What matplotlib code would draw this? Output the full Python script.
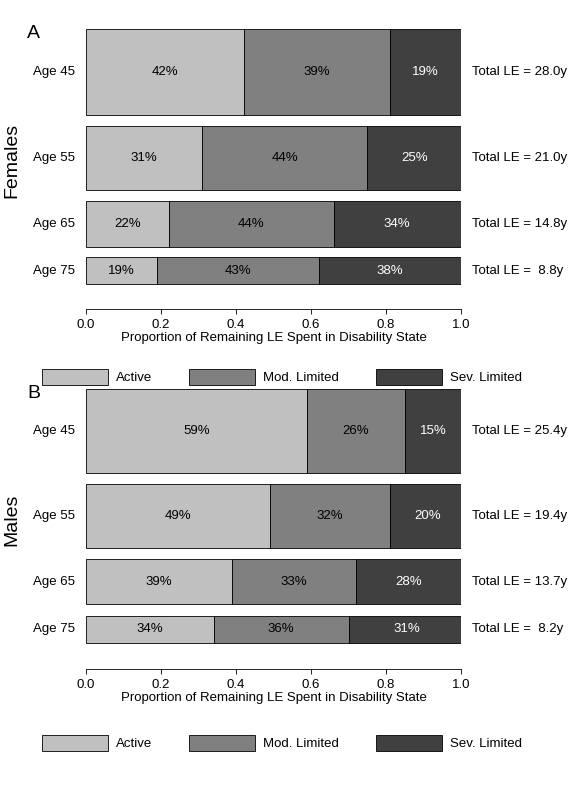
import matplotlib.pyplot as plt
from matplotlib.patches import Patch

plt.rcParams['font.family'] = ['Liberation Sans', 'DejaVu Sans']

ages = ["Age 45", "Age 55", "Age 65", "Age 75"]
fem_active = [0.42, 0.31, 0.22, 0.19]
fem_mod = [0.39, 0.44, 0.44, 0.43]
fem_sev = [0.19, 0.25, 0.34, 0.38]
fem_le = [28.0, 21.0, 14.8, 8.8]
male_active = [0.59, 0.49, 0.39, 0.34]
male_mod = [0.26, 0.32, 0.33, 0.36]
male_sev = [0.15, 0.20, 0.28, 0.31]
male_le = [25.4, 19.4, 13.7, 8.2]

colors = ["#c0c0c0", "#808080", "#404040"]
txtcol = ["black", "black", "white"]
gap = 3.5
fs = 9.5

fig = plt.figure(figsize=(5.76, 8), dpi=100)


def panel(bottom_px, top_px, act, mod, sev, le, letter, sex):
    ax = fig.add_axes([86 / 576, 1 - bottom_px / 800, 375 / 576, (bottom_px - top_px) / 800])
    y = 0.0
    for i in range(len(ages)):
        h = le[i]
        yc = -(y + h / 2)
        left = 0
        for j, v in enumerate([act[i], mod[i], sev[i]]):
            ax.barh(yc, v, height=h, left=left, color=colors[j], edgecolor="black", linewidth=0.6)
            ax.text(left + v / 2, yc, f"{round(v * 100)}%", ha="center", va="center", color=txtcol[j], fontsize=fs)
            left += v
        ax.text(-0.03, yc, ages[i], ha="right", va="center", fontsize=fs)
        ax.text(1.03, yc, f"Total LE = {le[i]:4.1f}y", ha="left", va="center", fontsize=fs)
        y += h + gap
    y -= gap
    ax.set_ylim(-(y + 8), 1.3)
    ax.set_xlim(0, 1)
    for s in ["left", "right", "top"]:
        ax.spines[s].set_visible(False)
    ax.spines["bottom"].set_linewidth(0.6)
    ax.set_yticks([])
    ax.set_xticks([0, 0.2, 0.4, 0.6, 0.8, 1.0])
    ax.set_xticklabels(["0.0", "0.2", "0.4", "0.6", "0.8", "1.0"])
    ax.tick_params(axis="x", labelsize=fs, width=0.6)
    ax.set_xlabel("Proportion of Remaining LE Spent in Disability State", fontsize=fs, labelpad=1)
    fig.text(27 / 576, 1 - (top_px + 8) / 800, letter, fontsize=14, ha="left", va="center")
    fig.text(12 / 576, 1 - (top_px + 135) / 800, sex, fontsize=14, rotation=90, ha="center", va="center")


panel(309, 25, fem_active, fem_mod, fem_sev, fem_le, "A", "Females")
panel(669, 385, male_active, male_mod, male_sev, male_le, "B", "Males")

labels = ["Active", "Mod. Limited", "Sev. Limited"]
for ly in [377, 743]:
    handles = [Patch(facecolor=c, edgecolor="black", linewidth=0.6) for c in colors]
    fig.legend(handles, labels, loc="center left", bbox_to_anchor=(30 / 576, 1 - ly / 800), ncol=3,
               frameon=False, handlelength=5.0, handleheight=1.5, handletextpad=0.6,
               columnspacing=2.8, fontsize=fs)

fig.savefig("out.png", dpi=100)
